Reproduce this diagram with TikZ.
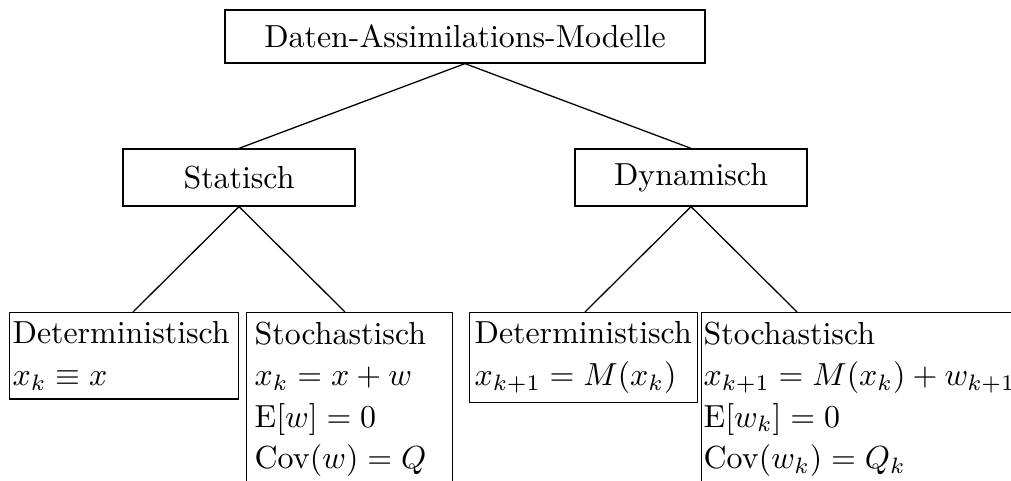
\documentclass[tikz,border=0pt]{standalone}
\newlength\upx
\setlength\upx{0.3135pt}
\begin{document}
\begin{tikzpicture}[x=0.3135pt,y=-0.3135pt,
  box/.style={draw, line width=0.4pt, font=\fontsize{10}{13}\selectfont},
  midbox/.style={box, minimum height=57\upx, inner sep=0pt},
  leafbox/.style={box, anchor=north west, align=left, inner ysep=9\upx}]
\useasboundingbox (0,0) rectangle (1011,481);
\node[box, minimum width=480\upx, minimum height=53\upx, inner sep=0pt] (top) at (465,36.5) {Daten-Assimilations-Modelle};
\node[midbox, minimum width=232\upx] (stat) at (239,177.5) {Statisch};
\node[midbox, minimum width=232\upx] (dyn) at (691,177.5) {Dynamisch};
\node[leafbox, inner xsep=3\upx, text width=223\upx] (det1) at (9,312) {Deterministisch\\$x_k \equiv x$};
\node[leafbox, inner xsep=8\upx, text width=190\upx] (sto1) at (246,312) {Stochastisch\\$x_k = x + w$\\$\mathrm{E}[w] = 0$\\$\mathrm{Cov}(w) = Q$};
\node[leafbox, inner xsep=5\upx, text width=218\upx] (det2) at (469,312) {Deterministisch\\$x_{k+1} = M(x_k)$};
\node[leafbox, inner xsep=2\upx, text width=320\upx] (sto2) at (701,312) {Stochastisch\\$x_{k+1} = M(x_k) + w_{k+1}$\\$\mathrm{E}[w_k] = 0$\\$\mathrm{Cov}(w_k) = Q_k$};
\draw (top.south) -- (stat.north);
\draw (top.south) -- (dyn.north);
\draw (stat.south) -- ([xshift=124\upx]det1.north west);
\draw (stat.south) -- ([xshift=99\upx]sto1.north west);
\draw (dyn.south) -- ([xshift=116\upx]det2.north west);
\draw (dyn.south) -- ([xshift=96\upx]sto2.north west);
\end{tikzpicture}
\end{document}
